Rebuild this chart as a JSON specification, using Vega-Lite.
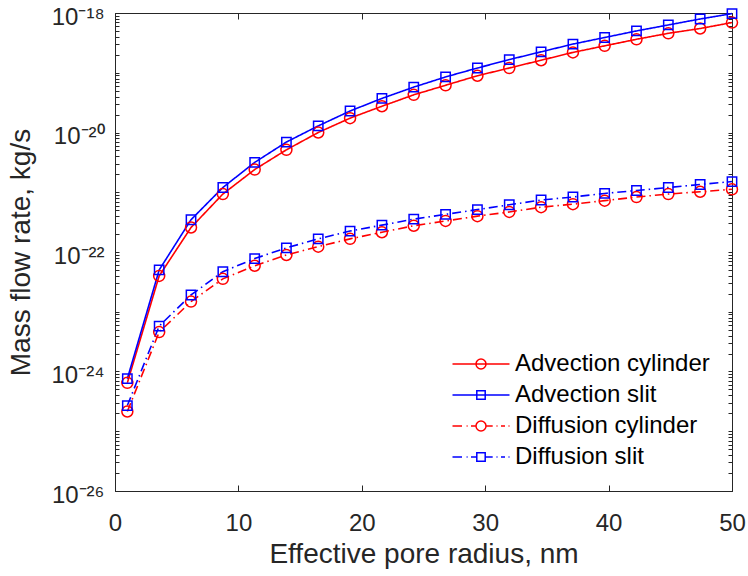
{
  "$schema": "https://vega.github.io/schema/vega-lite/v6.json",
  "width": 617,
  "height": 478,
  "autosize": "none",
  "padding": {"left": 115, "top": 13, "right": 16, "bottom": 85},
  "background": "white",
  "config": {
    "view": {"stroke": "#262626", "strokeWidth": 1},
    "font": "Liberation Sans",
    "axis": {
      "grid": false,
      "domainColor": "#262626",
      "domainWidth": 1,
      "tickColor": "#262626",
      "tickWidth": 1,
      "labelColor": "#262626",
      "labelFont": "Liberation Sans",
      "labelFontSize": 24,
      "titleFont": "Liberation Sans",
      "titleFontSize": 28,
      "titleFontWeight": "normal",
      "titleColor": "#262626",
      "labelFlush": false,
      "labelOverlap": false
    }
  },
  "data": {
    "values": [
      {"r": 1, "flow": 6.46e-25, "series": "Advection cylinder"},
      {"r": 3.58, "flow": 3.98e-23, "series": "Advection cylinder"},
      {"r": 6.16, "flow": 2.57e-22, "series": "Advection cylinder"},
      {"r": 8.74, "flow": 9.33e-22, "series": "Advection cylinder"},
      {"r": 11.32, "flow": 2.40e-21, "series": "Advection cylinder"},
      {"r": 13.89, "flow": 5.13e-21, "series": "Advection cylinder"},
      {"r": 16.47, "flow": 1.0e-20, "series": "Advection cylinder"},
      {"r": 19.05, "flow": 1.74e-20, "series": "Advection cylinder"},
      {"r": 21.63, "flow": 2.75e-20, "series": "Advection cylinder"},
      {"r": 24.21, "flow": 4.27e-20, "series": "Advection cylinder"},
      {"r": 26.79, "flow": 6.17e-20, "series": "Advection cylinder"},
      {"r": 29.37, "flow": 8.91e-20, "series": "Advection cylinder"},
      {"r": 31.95, "flow": 1.20e-19, "series": "Advection cylinder"},
      {"r": 34.53, "flow": 1.62e-19, "series": "Advection cylinder"},
      {"r": 37.11, "flow": 2.19e-19, "series": "Advection cylinder"},
      {"r": 39.68, "flow": 2.82e-19, "series": "Advection cylinder"},
      {"r": 42.26, "flow": 3.63e-19, "series": "Advection cylinder"},
      {"r": 44.84, "flow": 4.57e-19, "series": "Advection cylinder"},
      {"r": 47.42, "flow": 5.50e-19, "series": "Advection cylinder"},
      {"r": 50, "flow": 6.92e-19, "series": "Advection cylinder"},
      {"r": 1, "flow": 7.59e-25, "series": "Advection slit"},
      {"r": 3.58, "flow": 5.01e-23, "series": "Advection slit"},
      {"r": 6.16, "flow": 3.47e-22, "series": "Advection slit"},
      {"r": 8.74, "flow": 1.20e-21, "series": "Advection slit"},
      {"r": 11.32, "flow": 3.16e-21, "series": "Advection slit"},
      {"r": 13.89, "flow": 6.92e-21, "series": "Advection slit"},
      {"r": 16.47, "flow": 1.29e-20, "series": "Advection slit"},
      {"r": 19.05, "flow": 2.29e-20, "series": "Advection slit"},
      {"r": 21.63, "flow": 3.72e-20, "series": "Advection slit"},
      {"r": 24.21, "flow": 5.75e-20, "series": "Advection slit"},
      {"r": 26.79, "flow": 8.51e-20, "series": "Advection slit"},
      {"r": 29.37, "flow": 1.20e-19, "series": "Advection slit"},
      {"r": 31.95, "flow": 1.66e-19, "series": "Advection slit"},
      {"r": 34.53, "flow": 2.24e-19, "series": "Advection slit"},
      {"r": 37.11, "flow": 3.02e-19, "series": "Advection slit"},
      {"r": 39.68, "flow": 3.89e-19, "series": "Advection slit"},
      {"r": 42.26, "flow": 5.01e-19, "series": "Advection slit"},
      {"r": 44.84, "flow": 6.31e-19, "series": "Advection slit"},
      {"r": 47.42, "flow": 7.94e-19, "series": "Advection slit"},
      {"r": 50, "flow": 9.77e-19, "series": "Advection slit"},
      {"r": 1, "flow": 2.14e-25, "series": "Diffusion cylinder"},
      {"r": 3.58, "flow": 4.57e-24, "series": "Diffusion cylinder"},
      {"r": 6.16, "flow": 1.48e-23, "series": "Diffusion cylinder"},
      {"r": 8.74, "flow": 3.55e-23, "series": "Diffusion cylinder"},
      {"r": 11.32, "flow": 5.89e-23, "series": "Diffusion cylinder"},
      {"r": 13.89, "flow": 8.91e-23, "series": "Diffusion cylinder"},
      {"r": 16.47, "flow": 1.23e-22, "series": "Diffusion cylinder"},
      {"r": 19.05, "flow": 1.66e-22, "series": "Diffusion cylinder"},
      {"r": 21.63, "flow": 2.14e-22, "series": "Diffusion cylinder"},
      {"r": 24.21, "flow": 2.75e-22, "series": "Diffusion cylinder"},
      {"r": 26.79, "flow": 3.31e-22, "series": "Diffusion cylinder"},
      {"r": 29.37, "flow": 3.98e-22, "series": "Diffusion cylinder"},
      {"r": 31.95, "flow": 4.68e-22, "series": "Diffusion cylinder"},
      {"r": 34.53, "flow": 5.62e-22, "series": "Diffusion cylinder"},
      {"r": 37.11, "flow": 6.31e-22, "series": "Diffusion cylinder"},
      {"r": 39.68, "flow": 7.24e-22, "series": "Diffusion cylinder"},
      {"r": 42.26, "flow": 8.32e-22, "series": "Diffusion cylinder"},
      {"r": 44.84, "flow": 9.33e-22, "series": "Diffusion cylinder"},
      {"r": 47.42, "flow": 1.02e-21, "series": "Diffusion cylinder"},
      {"r": 50, "flow": 1.12e-21, "series": "Diffusion cylinder"},
      {"r": 1, "flow": 2.69e-25, "series": "Diffusion slit"},
      {"r": 3.58, "flow": 5.75e-24, "series": "Diffusion slit"},
      {"r": 6.16, "flow": 1.91e-23, "series": "Diffusion slit"},
      {"r": 8.74, "flow": 4.68e-23, "series": "Diffusion slit"},
      {"r": 11.32, "flow": 7.76e-23, "series": "Diffusion slit"},
      {"r": 13.89, "flow": 1.17e-22, "series": "Diffusion slit"},
      {"r": 16.47, "flow": 1.66e-22, "series": "Diffusion slit"},
      {"r": 19.05, "flow": 2.24e-22, "series": "Diffusion slit"},
      {"r": 21.63, "flow": 2.82e-22, "series": "Diffusion slit"},
      {"r": 24.21, "flow": 3.55e-22, "series": "Diffusion slit"},
      {"r": 26.79, "flow": 4.27e-22, "series": "Diffusion slit"},
      {"r": 29.37, "flow": 5.13e-22, "series": "Diffusion slit"},
      {"r": 31.95, "flow": 6.17e-22, "series": "Diffusion slit"},
      {"r": 34.53, "flow": 7.41e-22, "series": "Diffusion slit"},
      {"r": 37.11, "flow": 8.32e-22, "series": "Diffusion slit"},
      {"r": 39.68, "flow": 9.55e-22, "series": "Diffusion slit"},
      {"r": 42.26, "flow": 1.07e-21, "series": "Diffusion slit"},
      {"r": 44.84, "flow": 1.20e-21, "series": "Diffusion slit"},
      {"r": 47.42, "flow": 1.35e-21, "series": "Diffusion slit"},
      {"r": 50, "flow": 1.51e-21, "series": "Diffusion slit"}
    ]
  },
  "resolve": {
    "scale": {"color": "independent", "shape": "independent"},
    "axis": {"x": "independent", "y": "independent"}
  },
  "layer": [
    {
      "mark": {"type": "line", "strokeWidth": 1.6},
      "encoding": {
        "x": {
          "field": "r", "type": "quantitative",
          "scale": {"domain": [0, 50], "nice": false, "zero": false},
          "axis": {
            "orient": "bottom",
            "values": [0, 10, 20, 30, 40, 50],
            "tickSize": -6,
            "labelPadding": 26,
            "title": "Effective pore radius, nm",
            "titlePadding": 5
          }
        },
        "y": {
          "field": "flow", "type": "quantitative",
          "scale": {"type": "log", "domain": [1e-26, 1e-18], "nice": false},
          "axis": {
            "orient": "left",
            "values": [1e-26, 2e-26, 3e-26, 4e-26, 5e-26, 6e-26, 7e-26, 8e-26, 9e-26,
                       1e-25, 2e-25, 3e-25, 4e-25, 5e-25, 6e-25, 7e-25, 8e-25, 9e-25,
                       1e-24, 2e-24, 3e-24, 4e-24, 5e-24, 6e-24, 7e-24, 8e-24, 9e-24,
                       1e-23, 2e-23, 3e-23, 4e-23, 5e-23, 6e-23, 7e-23, 8e-23, 9e-23,
                       1e-22, 2e-22, 3e-22, 4e-22, 5e-22, 6e-22, 7e-22, 8e-22, 9e-22,
                       1e-21, 2e-21, 3e-21, 4e-21, 5e-21, 6e-21, 7e-21, 8e-21, 9e-21,
                       1e-20, 2e-20, 3e-20, 4e-20, 5e-20, 6e-20, 7e-20, 8e-20, 9e-20,
                       1e-19, 2e-19, 3e-19, 4e-19, 5e-19, 6e-19, 7e-19, 8e-19, 9e-19,
                       1e-18],
            "tickSize": -4,
            "labelPadding": 15,
            "labelOffset": 4,
            "labelExpr": "abs(log(datum.value)/LN10 - round(log(datum.value)/LN10)) > 0.01 ? '' : round(log(datum.value)/LN10) == -18 ? '10⁻¹⁸' : round(log(datum.value)/LN10) == -20 ? '10⁻²⁰' : round(log(datum.value)/LN10) == -22 ? '10⁻²²' : round(log(datum.value)/LN10) == -24 ? '10⁻²⁴' : round(log(datum.value)/LN10) == -26 ? '10⁻²⁶' : ''",
            "title": "Mass flow rate, kg/s",
            "titlePadding": 16
          }
        },
        "color": {
          "field": "series", "type": "nominal",
          "scale": {
            "domain": ["Advection cylinder", "Advection slit", "Diffusion cylinder", "Diffusion slit"],
            "range": ["#ff0000", "#0000ff", "#ff0000", "#0000ff"]
          },
          "legend": null
        },
        "strokeDash": {
          "field": "series", "type": "nominal",
          "scale": {
            "domain": ["Advection cylinder", "Advection slit", "Diffusion cylinder", "Diffusion slit"],
            "range": [[1, 0], [1, 0], [9, 4, 1.5, 4], [9, 4, 1.5, 4]]
          },
          "legend": null
        }
      }
    },
    {
      "mark": {"type": "point", "filled": false, "strokeWidth": 1.5, "size": 121, "opacity": 1},
      "encoding": {
        "x": {
          "field": "r", "type": "quantitative",
          "scale": {"domain": [0, 50], "nice": false, "zero": false},
          "axis": {
            "orient": "top",
            "values": [0, 10, 20, 30, 40, 50],
            "tickSize": -6,
            "labels": false,
            "domain": false,
            "title": null
          }
        },
        "y": {
          "field": "flow", "type": "quantitative",
          "scale": {"type": "log", "domain": [1e-26, 1e-18], "nice": false},
          "axis": {
            "orient": "right",
            "values": [1e-26, 2e-26, 3e-26, 4e-26, 5e-26, 6e-26, 7e-26, 8e-26, 9e-26,
                       1e-25, 2e-25, 3e-25, 4e-25, 5e-25, 6e-25, 7e-25, 8e-25, 9e-25,
                       1e-24, 2e-24, 3e-24, 4e-24, 5e-24, 6e-24, 7e-24, 8e-24, 9e-24,
                       1e-23, 2e-23, 3e-23, 4e-23, 5e-23, 6e-23, 7e-23, 8e-23, 9e-23,
                       1e-22, 2e-22, 3e-22, 4e-22, 5e-22, 6e-22, 7e-22, 8e-22, 9e-22,
                       1e-21, 2e-21, 3e-21, 4e-21, 5e-21, 6e-21, 7e-21, 8e-21, 9e-21,
                       1e-20, 2e-20, 3e-20, 4e-20, 5e-20, 6e-20, 7e-20, 8e-20, 9e-20,
                       1e-19, 2e-19, 3e-19, 4e-19, 5e-19, 6e-19, 7e-19, 8e-19, 9e-19,
                       1e-18],
            "tickSize": -4,
            "labels": false,
            "domain": false,
            "title": null
          }
        },
        "color": {
          "field": "series", "type": "nominal",
          "scale": {
            "domain": ["Advection cylinder", "Advection slit", "Diffusion cylinder", "Diffusion slit"],
            "range": ["#ff0000", "#0000ff", "#ff0000", "#0000ff"]
          },
          "legend": null
        },
        "shape": {
          "field": "series", "type": "nominal",
          "scale": {
            "domain": ["Advection cylinder", "Advection slit", "Diffusion cylinder", "Diffusion slit"],
            "range": ["circle", "M-0.85,-0.85L0.85,-0.85L0.85,0.85L-0.85,0.85Z", "circle", "M-0.85,-0.85L0.85,-0.85L0.85,0.85L-0.85,0.85Z"]
          },
          "legend": null
        }
      }
    },
    {
      "transform": [{"filter": "datum.flow < 0"}],
      "mark": {"type": "point", "filled": false, "strokeWidth": 1.5, "opacity": 1},
      "encoding": {
        "color": {
          "field": "series", "type": "nominal",
          "scale": {
            "domain": ["Advection cylinder", "Advection slit", "Diffusion cylinder", "Diffusion slit"],
            "range": ["#ff0000", "#0000ff", "#ff0000", "#0000ff"]
          },
          "legend": {
            "title": null,
            "orient": "bottom-right",
            "offset": 22,
            "padding": 0,
            "symbolSize": 400,
            "symbolStrokeWidth": 1.5,
            "labelFont": "Liberation Sans",
            "labelFontSize": 24,
            "labelColor": "#000000",
            "labelLimit": 0,
            "labelOffset": 22,
            "rowPadding": 7
          }
        },
        "shape": {
          "field": "series", "type": "nominal",
          "scale": {
            "domain": ["Advection cylinder", "Advection slit", "Diffusion cylinder", "Diffusion slit"],
            "range": [
              "M-2.85,0L2.85,0M0.5,0A0.5,0.5 0 1,1 -0.5,0A0.5,0.5 0 1,1 0.5,0Z",
              "M-2.85,0L2.85,0M-0.42,-0.42L0.42,-0.42L0.42,0.42L-0.42,0.42Z",
              "M-2.85,0L-1.9,0M-1.44,0L-1.34,0M-1,0L-0.5,0M0.5,0L1.17,0M1.55,0L1.65,0M2,0L2.4,0M2.75,0L2.85,0M0.5,0A0.5,0.5 0 1,1 -0.5,0A0.5,0.5 0 1,1 0.5,0Z",
              "M-2.85,0L-1.9,0M-1.44,0L-1.34,0M-1,0L-0.42,0M0.42,0L1.17,0M1.55,0L1.65,0M2,0L2.4,0M2.75,0L2.85,0M-0.42,-0.42L0.42,-0.42L0.42,0.42L-0.42,0.42Z"
            ]
          },
          "legend": {
            "title": null,
            "orient": "bottom-right",
            "offset": 22,
            "padding": 0,
            "symbolSize": 400,
            "symbolStrokeWidth": 1.5,
            "labelFont": "Liberation Sans",
            "labelFontSize": 24,
            "labelColor": "#000000",
            "labelLimit": 0,
            "labelOffset": 22,
            "rowPadding": 7
          }
        }
      }
    }
  ]
}
